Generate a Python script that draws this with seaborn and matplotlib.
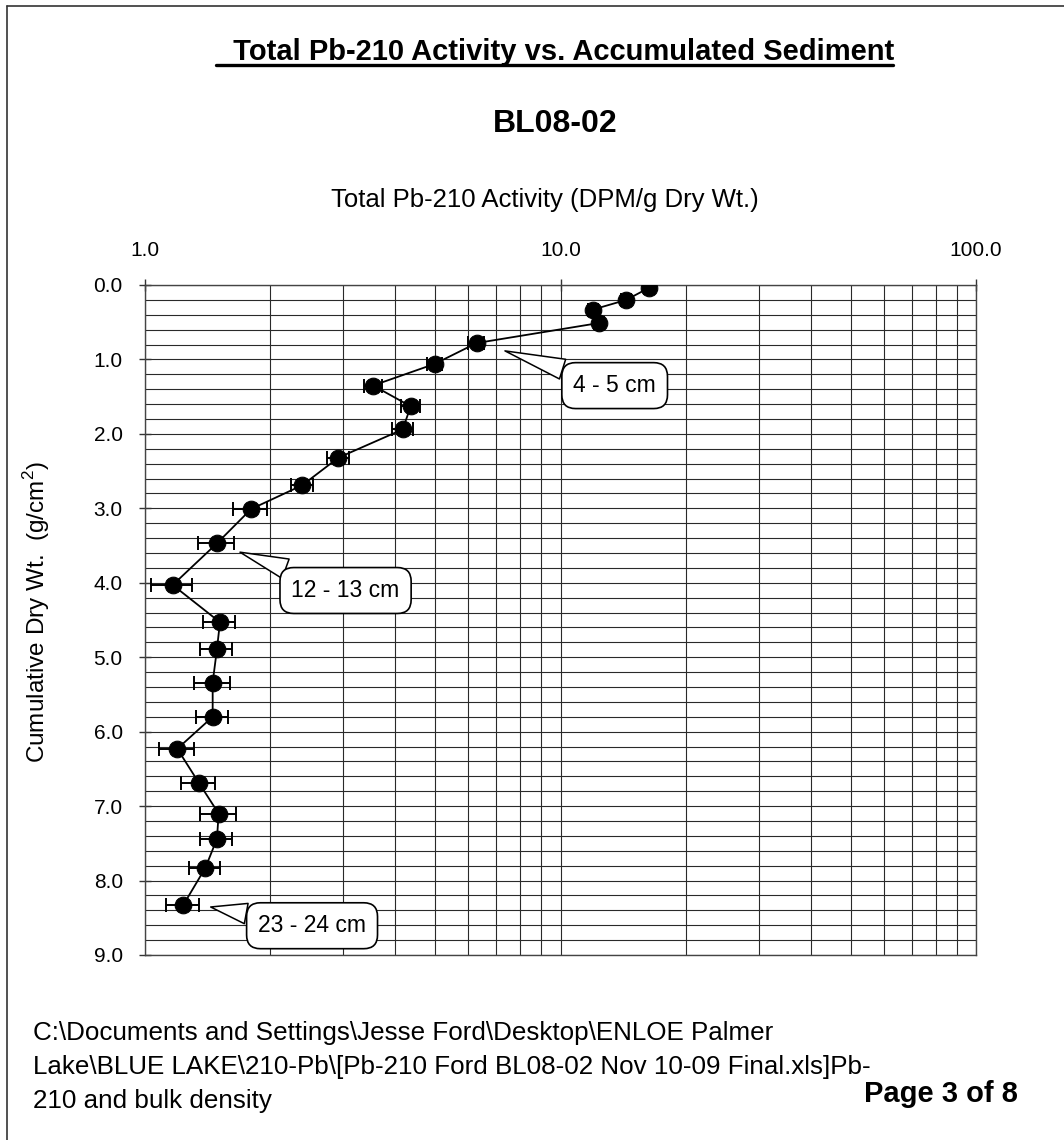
import numpy as np
import pandas as pd
import matplotlib
matplotlib.use("Agg")
import matplotlib.pyplot as plt
from matplotlib.ticker import FixedLocator, MultipleLocator, FormatStrFormatter, LogLocator, NullFormatter
from matplotlib.lines import Line2D
import seaborn as sns

# ---------------- data ----------------
activity = [16.3, 14.4, 11.97, 12.4, 6.28, 4.98, 3.54, 4.36, 4.17, 2.92, 2.39, 1.80,
            1.49, 1.166, 1.515, 1.49, 1.455, 1.455, 1.196, 1.349, 1.504, 1.49, 1.397, 1.236]
cum_dry = [0.04, 0.20, 0.33, 0.51, 0.78, 1.06, 1.35, 1.63, 1.94, 2.32, 2.69, 3.01,
           3.47, 4.03, 4.53, 4.89, 5.34, 5.80, 6.23, 6.69, 7.10, 7.44, 7.83, 8.33]
activity_err = [0.45, 0.40, 0.33, 0.35, 0.28, 0.22, 0.18, 0.22, 0.24, 0.18, 0.15, 0.17,
                0.15, 0.13, 0.135, 0.13, 0.145, 0.13, 0.115, 0.125, 0.15, 0.13, 0.12, 0.11]

x_ticks = [1.0, 10.0, 100.0]
y_ticks = [0, 1, 2, 3, 4, 5, 6, 7, 8, 9]

callout_labels = ["4 - 5 cm", "12 - 13 cm", "23 - 24 cm"]
callout_x = [7.35, 1.693, 1.439]
callout_y = [0.885, 3.589, 8.355]

df = pd.DataFrame({"activity": activity, "cum": cum_dry, "err": activity_err})

# ---------------- style ----------------
sns.set_theme(style="white")
plt.rcParams["font.family"] = ["Liberation Sans", "DejaVu Sans"]
plt.rcParams["mathtext.fontset"] = "custom"
plt.rcParams["mathtext.rm"] = "Liberation Sans"
plt.rcParams["text.color"] = "black"
plt.rcParams["axes.labelcolor"] = "black"
plt.rcParams["xtick.color"] = "black"
plt.rcParams["ytick.color"] = "black"

W, H = 1064, 1140
fig = plt.figure(figsize=(W / 100, H / 100), dpi=100)
fig.patch.set_facecolor("white")

L, R, T, B = 145, 976, 285, 955
ax = fig.add_axes([L / W, 1 - B / H, (R - L) / W, (B - T) / H])
ax.set_facecolor("white")

# errorbars
ax.errorbar(df["activity"], df["cum"], xerr=df["err"], fmt="none", ecolor="black",
            elinewidth=1.4, capsize=5, capthick=1.4, zorder=3)
sns.lineplot(data=df, x="activity", y="cum", sort=False, estimator=None, color="black",
             marker="o", markersize=12, markeredgecolor="black", linewidth=1.3, ax=ax, zorder=4)

ax.set_xscale("log")
ax.set_xlim(1, 100)
ax.set_ylim(9, 0)

ax.xaxis.set_ticks_position("top")
ax.xaxis.set_label_position("top")
ax.xaxis.set_major_locator(FixedLocator(x_ticks))
ax.xaxis.set_major_formatter(FormatStrFormatter("%.1f"))
ax.xaxis.set_minor_locator(LogLocator(base=10, subs=np.arange(2, 10)))
ax.xaxis.set_minor_formatter(NullFormatter())
ax.yaxis.set_major_locator(FixedLocator(y_ticks))
ax.yaxis.set_major_formatter(FormatStrFormatter("%.1f"))
ax.yaxis.set_minor_locator(MultipleLocator(0.2))

ax.tick_params(axis="x", which="major", direction="inout", length=8, width=1, color="#333333",
               labelcolor="black", labelsize=15, pad=14, top=True, bottom=False,
               labeltop=True, labelbottom=False)
ax.tick_params(axis="x", which="minor", length=0)
ax.tick_params(axis="y", which="major", direction="inout", length=8, width=1, color="#333333",
               labelcolor="black", labelsize=15, pad=12, left=True)
ax.tick_params(axis="y", which="minor", length=0)

ax.grid(True, which="both", axis="both", color="#2a2a2a", linewidth=0.8)
for s in ax.spines.values():
    s.set_color("#444444")
    s.set_linewidth(1.0)
    s.set_visible(True)

ax.set_xlabel("")
ax.set_ylabel("")

# callouts
offsets = [(79, -25), (76, -27.6), (73, -13.5)]
for lab, xx, yy, off in zip(callout_labels, callout_x, callout_y, offsets):
    ax.annotate(lab, xy=(xx, yy), xytext=off, textcoords="offset points",
                ha="center", va="center", fontsize=16.5, zorder=6, color="black",
                bbox=dict(boxstyle="round,pad=0.5,rounding_size=0.6", fc="white", ec="black", lw=1.2),
                arrowprops=dict(arrowstyle="wedge,tail_width=0.9,shrink_factor=0.5",
                                fc="white", ec="black", lw=1.1, shrinkA=0, shrinkB=0))

# texts
fig.text(560 / W, 1 - 60 / H, " Total Pb-210 Activity vs. Accumulated Sediment", ha="center", va="baseline",
         fontsize=21, fontweight="bold", color="black")
fig.add_artist(Line2D([216 / W, 893 / W], [1 - 65 / H, 1 - 65 / H], color="black", lw=2.4))
fig.text(555 / W, 1 - 132 / H, "BL08-02", ha="center", va="baseline", fontsize=23, fontweight="bold",
         color="black")
fig.text(545 / W, 1 - 207 / H, "Total Pb-210 Activity (DPM/g Dry Wt.)", ha="center", va="baseline",
         fontsize=18.5, color="black")
fig.text(37 / W, 1 - 612 / H, "Cumulative Dry Wt.  (g/cm$^2$)", ha="center", va="center",
         rotation=90, fontsize=17.5, color="black")

footer = ["C:\\Documents and Settings\\Jesse Ford\\Desktop\\ENLOE Palmer",
          "Lake\\BLUE LAKE\\210-Pb\\[Pb-210 Ford BL08-02 Nov 10-09 Final.xls]Pb-",
          "210 and bulk density"]
for i, line in enumerate(footer):
    fig.text(33 / W, 1 - (1040 + 34 * i) / H, line, ha="left", va="baseline", fontsize=18.7, color="black")
fig.text(1018 / W, 1 - 1102 / H, "Page 3 of 8", ha="right", va="baseline", fontsize=21, fontweight="bold",
         color="black")

# page border (left and top)
fig.add_artist(Line2D([7 / W, 7 / W], [0, 1 - 6 / H], color="#333333", lw=1.2))
fig.add_artist(Line2D([7 / W, 1], [1 - 6 / H, 1 - 6 / H], color="#333333", lw=1.2))

fig.savefig("out.png", dpi=100, facecolor="white")
